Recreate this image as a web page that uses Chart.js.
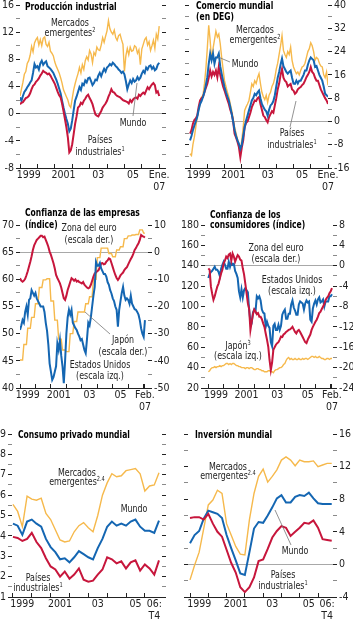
<!DOCTYPE html>
<html lang="es">
<head>
<meta charset="utf-8">
<title>Indicadores mundiales</title>
<script src="https://cdn.jsdelivr.net/npm/chart.js@4.4.1/dist/chart.umd.min.js"></script>
<style>
  html, body { margin: 0; padding: 0; background: #fff; }
  body { position: relative; width: 353px; height: 620px; overflow: hidden;
         font-family: "Liberation Sans Narrow", "Arial Narrow", "DejaVu Sans Condensed", sans-serif; }
  canvas { position: absolute; }
  .t { position: absolute; font-size: 11px; line-height: 11px; color: #222; white-space: nowrap; }
  .c { transform: translate(-50%, -50%) scaleX(0.8); text-align: center; }
  .l { transform: translateY(-50%) scaleX(0.77); transform-origin: left center; }
  .b { font-weight: bold; color: #000; }
  sup { font-size: 7px; line-height: 0; vertical-align: 4px; }
  svg { position: absolute; left: 0; top: 0; }
</style>
</head>
<body>
<canvas id="p1" width="176" height="200" style="left:0;top:0"></canvas>
<canvas id="p2" width="177" height="200" style="left:176px;top:0"></canvas>
<canvas id="p3" width="176" height="215" style="left:0;top:205px"></canvas>
<canvas id="p4" width="177" height="215" style="left:176px;top:205px"></canvas>
<canvas id="p5" width="176" height="200" style="left:0;top:420px"></canvas>
<canvas id="p6" width="177" height="200" style="left:176px;top:420px"></canvas>

<svg width="353" height="620">
  <g stroke="#777" stroke-width="0.8">
    <line x1="133" y1="116" x2="137" y2="83"/>
    <line x1="230" y1="62" x2="218" y2="57"/>
    <line x1="290" y1="127" x2="296" y2="101"/>
    <line x1="110" y1="334" x2="85" y2="312"/>
    <line x1="291" y1="545" x2="275" y2="510"/>
  </g>
</svg>

<!-- Producción industrial -->
<div class="t b l" style="left:25px;top:6px">Producción industrial</div>
<div class="t c" style="left:70px;top:28px;line-height:10px">Mercados<br>emergentes<sup>2</sup></div>
<div class="t c" style="left:133px;top:122px">Mundo</div>
<div class="t c" style="left:100px;top:146px;line-height:12px">Países<br>industriales<sup>1</sup></div>

<!-- Comercio mundial -->
<div class="t b l" style="left:196px;top:11px">Comercio mundial<br>(en DEG)</div>
<div class="t c" style="left:255px;top:35px;line-height:10px">Mercados<br>emergentes<sup>2</sup></div>
<div class="t c" style="left:245px;top:63px">Mundo</div>
<div class="t c" style="left:292px;top:139px;line-height:12px">Países<br>industriales<sup>1</sup></div>

<!-- Confianza de las empresas -->
<div class="t b l" style="left:25px;top:219px;line-height:12px">Confianza de las empresas<br>(índice)</div>
<div class="t c" style="left:89px;top:234px;line-height:12px">Zona del euro<br>(escala der.)</div>
<div class="t c" style="left:123px;top:346px;line-height:12px">Japón<br>(escala der.)</div>
<div class="t c" style="left:100px;top:370px">Estados Unidos<br>(escala izq.)</div>

<!-- Confianza de los consumidores -->
<div class="t b l" style="left:210px;top:220px;line-height:10px">Confianza de los<br>consumidores (índice)</div>
<div class="t c" style="left:276px;top:253px">Zona del euro<br>(escala der.)</div>
<div class="t c" style="left:292px;top:285px">Estados Unidos<br>(escala izq.)</div>
<div class="t c" style="left:238px;top:351px;line-height:10px">Japón<sup>3</sup><br>(escala izq.)</div>

<!-- Consumo privado mundial -->
<div class="t b l" style="left:18px;top:434px">Consumo privado mundial</div>
<div class="t c" style="left:77px;top:477px;line-height:9px">Mercados<br>emergentes<sup>2.4</sup></div>
<div class="t c" style="left:134px;top:508px">Mundo</div>
<div class="t c" style="left:38px;top:583px;line-height:10px">Países<br>industriales<sup>1</sup></div>

<!-- Inversión mundial -->
<div class="t b l" style="left:195px;top:434px">Inversión mundial</div>
<div class="t c" style="left:228px;top:471px;line-height:9px">Mercados<br>emergentes<sup>2.4</sup></div>
<div class="t c" style="left:295px;top:550px">Mundo</div>
<div class="t c" style="left:283px;top:580px;line-height:11px">Países<br>industriales<sup>1</sup></div>

<script>
// ---- data: monthly from Jan 1999 ----
// Producción industrial (Jan 1999 - Jan 2007)
const indEmergentes = [
  2.6,3.6,4.6,5.8,6.2,7.4,7.8,8.6,9.9,9.1,10.4,10.9,
  11.2,10.1,10.9,10.0,11.1,11.3,10.2,9.9,10.5,9.2,8.9,8.5,
  7.6,7.0,6.5,6.0,5.3,4.5,3.5,3.0,2.5,2.0,1.2,0.9,
  2.2,3.5,4.4,5.2,5.9,6.8,6.0,7.2,6.5,7.8,8.4,7.9,
  9.3,8.8,7.5,9.0,8.6,9.8,9.4,9.3,10.1,11.2,10.5,11.4,
  12.2,13.7,12.5,12.0,11.7,12.3,11.2,10.8,11.5,11.7,10.9,10.2,
  6.2,8.5,9.6,8.7,9.8,9.2,9.3,10.0,9.8,8.9,9.4,7.2,
  9.5,10.2,10.9,11.2,10.1,10.6,9.3,10.0,10.8,9.6,11.7,11.0,
  12.9];
const indMundo = [
  2.4,1.9,2.6,3.2,3.5,3.9,4.2,4.6,4.9,6.0,7.3,6.8,
  7.0,6.5,7.4,7.8,7.2,7.5,7.7,7.0,6.8,6.6,6.3,6.0,
  5.5,5.0,4.4,3.7,3.0,1.9,0.9,0.0,-0.8,-1.5,-2.6,-2.2,
  -1.0,0.5,1.9,2.5,3.2,3.9,3.5,4.4,4.2,4.9,4.6,5.2,
  5.3,4.8,4.2,4.5,5.0,4.9,5.6,6.0,5.5,6.1,6.6,6.2,
  6.8,7.0,7.3,7.1,7.5,7.3,7.0,6.8,6.5,6.3,6.0,6.2,
  5.8,4.8,3.6,4.3,4.9,4.5,5.1,4.7,4.9,5.4,5.0,5.3,
  5.9,6.3,6.0,6.8,6.5,7.0,7.1,6.6,6.9,6.4,6.6,7.2,
  7.5];
const indIndustriales = [
  1.4,1.6,1.7,2.0,2.3,2.4,2.6,3.0,3.6,4.1,4.3,4.7,
  4.9,5.2,5.6,5.9,6.3,6.1,6.0,5.8,5.9,5.6,5.2,4.8,
  4.4,3.8,3.2,2.7,2.4,1.5,0.4,-0.8,-2.0,-3.5,-5.7,-5.4,
  -4.5,-3.0,-1.5,-0.4,0.9,1.1,1.6,1.4,1.9,2.2,2.6,2.8,
  2.3,1.9,1.4,0.6,-0.1,-0.3,-0.4,0.0,0.4,0.9,1.2,1.5,
  1.9,2.5,3.0,3.6,3.2,3.1,2.8,2.6,2.5,2.4,2.2,2.0,
  1.9,1.8,1.7,1.5,2.0,1.7,2.1,2.3,2.4,2.2,2.8,2.6,
  2.9,3.1,2.9,3.4,3.9,3.6,4.0,4.3,4.5,4.2,3.1,3.3,
  2.6];

// Comercio mundial en DEG (Jan 1999 - Jan 2007)
const comEmergentes = [
  -11.1,-11.7,-8.0,-5.4,-2.0,1.5,4.0,6.0,8.4,9.0,12.9,18.0,
  25.0,33.0,27.8,21.0,25.0,28.0,31.0,29.0,30.0,26.7,22.0,18.0,
  14.0,12.0,10.0,8.4,6.0,3.8,1.0,-2.0,-4.0,-6.0,-7.7,-10.5,
  -6.5,-2.0,3.8,5.0,6.0,7.2,10.0,12.9,12.0,14.0,13.0,15.0,
  16.4,13.0,10.0,8.5,7.5,9.0,6.5,9.0,10.0,12.0,13.0,15.0,
  18.0,20.0,23.0,26.0,29.5,24.4,23.0,22.0,24.0,23.0,25.5,21.0,
  18.7,17.5,16.4,17.0,16.0,17.5,18.7,19.0,20.0,22.0,24.0,25.0,
  27.0,26.0,24.0,21.0,22.0,21.5,20.0,19.0,18.7,16.0,15.0,17.0,
  12.4];
const comMundo = [
  -6.5,-5.0,-3.0,-1.5,0.0,1.5,4.0,6.0,7.0,8.4,10.0,12.5,
  15.2,19.8,23.3,21.0,23.3,19.8,22.0,22.0,23.3,19.0,16.4,14.0,
  11.8,10.0,8.5,7.2,5.0,2.6,0.0,-3.0,-5.0,-6.5,-7.7,-9.4,
  -8.0,-5.0,-2.0,0.3,2.0,3.8,5.5,7.2,8.0,9.5,9.0,10.0,
  10.6,8.0,6.0,5.0,4.0,3.5,2.0,4.0,5.5,6.0,7.0,9.0,
  12.0,15.0,17.0,19.5,21.6,19.0,18.0,17.0,16.4,17.0,17.5,15.0,
  13.0,12.9,14.0,13.0,14.0,14.0,15.0,16.0,17.5,17.5,19.5,21.0,
  22.0,21.5,21.0,18.7,19.0,17.5,16.0,15.0,14.0,12.0,9.5,9.0,
  8.4];
const comIndustriales = [
  -4.2,-3.0,-0.8,0.5,1.0,2.0,5.0,7.2,8.0,8.4,10.0,11.5,
  12.9,15.0,17.5,15.5,17.0,16.0,17.5,15.2,18.7,16.0,14.0,12.0,
  10.6,9.0,7.5,6.0,4.0,2.6,0.0,-4.2,-5.5,-7.0,-8.8,-12.3,
  -9.0,-6.5,-2.0,-0.5,0.0,1.5,3.0,4.9,6.0,7.2,7.0,8.0,
  8.4,6.0,4.0,2.0,1.5,0.5,-0.3,1.5,2.5,3.5,3.0,5.5,
  8.0,11.0,13.0,16.0,18.0,15.0,14.0,13.5,12.0,12.5,12.9,11.0,
  10.6,9.5,10.0,11.0,11.5,11.8,12.5,13.0,14.0,15.2,16.0,17.0,
  18.7,17.0,16.4,15.0,14.0,14.0,12.5,11.0,10.0,9.0,8.0,7.2,
  6.0];

// Confianza de las empresas (Jan 1999 - Feb 2007)
const empEuro = [
  -9.6,-10.5,-10.9,-10.5,-9.8,-8.5,-7.0,-5.3,-3.5,-1.5,0.8,2.5,
  3.5,4.5,5.0,5.5,6.0,6.0,5.5,5.7,4.5,3.3,2.0,0.2,
  -1.0,-2.5,-4.1,-6.0,-8.4,-9.5,-10.5,-11.5,-13.0,-15.0,-17.0,-17.6,
  -16.0,-13.9,-12.5,-11.0,-9.6,-10.0,-10.5,-10.0,-10.8,-10.5,-11.0,-11.2,
  -11.5,-11.0,-12.0,-12.5,-13.0,-13.3,-13.0,-12.0,-10.5,-9.0,-7.8,-7.5,
  -7.0,-6.6,-5.5,-4.1,-4.0,-4.5,-4.3,-3.5,-3.0,-2.3,-2.6,-4.0,
  -5.5,-7.0,-8.4,-9.5,-10.2,-9.5,-8.5,-8.0,-7.5,-6.6,-6.0,-5.5,
  -4.5,-3.5,-2.5,-1.7,-0.5,0.8,1.5,2.5,3.3,4.5,6.3,5.9,
  5.7,5.4];
const empJapon = [
  -39.7,-39.7,-39.7,-34,-34,-34,-28,-28,-28,-24,-24,-24,
  -19,-19,-19,-13,-13,-13,-10.2,-10.2,-10.2,-9.8,-9.8,-9.8,
  -18,-18,-18,-25,-25,-25,-32,-32,-32,-36,-36,-36,
  -36.6,-36.6,-36.6,-30,-30,-30,-25.5,-25.5,-25.5,-22,-22,-22,
  -22,-22,-22,-19,-19,-19,-16.4,-16.4,-16.4,-10,-10,-10,
  -2,-2,-2,1.5,1.5,1.5,1.5,1.5,1.5,-0.5,-0.5,-0.5,
  -1.7,-1.7,-1.7,0.8,0.8,0.8,2,2,2,5,5,5,
  6,6,6,6.3,6.3,6.3,6.5,6.5,6.5,8.2,8.2,8.2,
  7,7];
const empEEUU = [
  50.7,51.5,52.5,52.0,54.0,55.0,53.5,56.2,56.5,58.0,57.5,57.0,
  57.5,56.5,56.0,55.5,55.0,55.0,55.0,54.0,52.0,50.5,48.0,44.5,
  43.0,41.5,42.0,43.0,44.0,48.2,47.0,48.8,46.0,44.0,40.9,45.0,
  50.0,53.0,54.4,53.5,54.4,52.0,51.5,51.0,50.7,50.0,49.5,48.8,
  49.0,48.0,47.0,46.4,49.0,52.0,51.5,53.0,55.0,57.0,58.6,63.2,
  62.5,62.5,63.0,62.0,61.5,61.0,61.0,60.5,59.5,59.0,58.0,57.4,
  56.5,56.0,55.0,54.4,51.3,54.4,56.0,57.5,58.6,57.0,56.2,56.5,
  56.2,55.5,57.0,55.5,55.0,54.5,54.4,54.0,53.5,52.5,51.0,50.0,
  49.4,52.5];

// Confianza de los consumidores (Jan 1999 - Feb 2007)
const conEEUU = [
  128,132,134,135,137,139,136,136,134,130,137,141,
  144,141,137,137,144,139,143,141,142,135,132,128,
  115,109,117,109,116,118,116,114,97,85,84,94,
  97,95,110,108,110,106,97,94,93,80,85,81,
  79,65,61,81,83,77,77,82,77,81,92,95,
  97,88,88,93,93,102,106,99,96,92,92,102,
  105,104,103,97,103,106,104,105,87,85,98,103,
  106,102,107,109,104,105,107,100,105,105,105,110,
  110,112];
const conEuro = [
  -0.5,-0.8,-4.1,-5.5,-6.7,-6.0,-5.0,-4.1,-3.5,-2.5,-1.5,-0.8,
  0.5,1.0,1.8,1.5,2.2,2.4,1.0,2.4,1.8,0.8,1.5,2.1,
  1.8,1.2,1.0,-0.5,-1.7,-3.5,-5.4,-7.4,-8.5,-12.6,-11.0,-9.5,
  -8.6,-9.0,-9.5,-9.3,-10.0,-10.0,-10.5,-11.3,-12.0,-13.3,-14.5,-15.9,
  -18.5,-20.5,-19.0,-16.5,-16.0,-15.5,-15.2,-15.0,-14.5,-13.9,-14.0,-13.5,
  -13.3,-13.0,-12.8,-12.6,-12.5,-12.3,-12.0,-12.5,-13.0,-13.3,-12.8,-12.6,
  -13.0,-13.5,-14.0,-14.5,-15.0,-15.2,-14.5,-14.0,-13.5,-12.6,-12.0,-11.5,
  -11.0,-10.6,-10.0,-9.3,-9.0,-8.5,-8.0,-7.5,-6.7,-6.3,-6.0,-5.4,
  -5.0,-4.4];
const conJapon = [
  36,37,39,40,40,41,40,41,41,42,41,42,
  42,43,44,44,43,44,43,44,44,43,42,42,
  41,41,40,40,40,39,40,40,39,40,40,39,
  38,38,39,39,38,38,37,37,36,36,36,37,
  37,36,36,35,37,38,38,39,40,40,41,43,
  44,47,49,50,48,49,48,48,49,48,48,49,
  48,48,49,48,49,49,48,49,50,51,51,50,
  51,50,50,51,50,49,49,48,48,49,49,48,
  49,49];

// ---- data: quarterly, 1999 T1 - 2006 T4 ----
const consEmergentes = [5.55,5.2,4.45,5.95,5.8,5.75,5.85,5.1,4.8,4.3,3.8,3.7,3.75,4.2,4.5,4.65,
  4.4,4.2,5.0,6.0,6.6,7.05,6.9,6.95,7.2,7.25,7.3,7.05,6.2,6.45,6.5,7.1];
const consMundo = [4.6,4.5,4.05,4.7,4.8,4.6,4.45,3.85,3.45,3.2,2.85,2.9,2.7,2.95,3.25,3.1,
  2.95,2.85,3.4,3.85,4.45,4.7,4.5,4.6,4.5,4.7,4.8,4.45,4.25,4.25,4.15,4.75];
const consIndustriales = [3.95,3.9,3.75,3.85,4.15,3.7,3.4,2.9,2.5,2.35,2.0,2.25,1.9,2.1,2.4,1.85,
  1.75,1.8,2.1,2.35,2.95,2.85,2.65,2.75,2.4,2.7,2.8,2.3,2.6,2.4,2.1,2.8];

const invEmergentes = [-1.9,-0.1,1.5,4.4,7.3,7.9,9.1,8.7,5.0,3.6,2.2,1.25,1.15,5.5,8.7,10.8,
  11.7,10.1,10.8,11.6,12.8,13.2,12.8,12.1,12.8,12.6,12.6,12.7,12.0,12.2,12.4,12.4];
const invMundo = [2.6,3.6,4.1,5.6,6.6,6.4,6.2,5.7,3.6,2.0,0.5,-1.1,-1.3,1.5,4.4,5.2,
  5.1,6.0,7.0,8.1,8.5,7.6,7.6,8.3,8.5,8.4,8.8,8.1,7.5,7.4,7.4,7.4];
const invIndustriales = [5.7,5.8,5.8,5.5,6.2,5.0,4.0,3.4,1.8,0.2,-1.0,-2.8,-3.4,-2.8,-1.6,0.4,
  0.6,1.9,3.3,4.1,4.7,4.5,3.5,4.0,4.5,5.1,5.0,5.4,4.5,3.1,3.0,2.9];

// ---- x tick labels: [position in years, text, draw tick mark] ----
const labelsEne07 = [[1999.5, '1999'], [2001.5, '2001'], [2003.5, '03'], [2005.5, '05'], [2007, ['Ene.', '07'], true]];
const labelsFeb07 = [[1999.5, '1999'], [2001.5, '2001'], [2003.5, '03'], [2005.5, '05'], [2007.08, ['Feb.', '07'], true]];
const labelsT4 = [[1999.5, '1999'], [2001.5, '2001'], [2003.5, '03'], [2005.5, '05'], [2006.5, ['06:', 'T4']]];

const ORANGE = '#F6B94C';
const BLUE = '#1466B2';
const RED = '#C7163C';
const FONT = '"Liberation Sans Narrow", "Arial Narrow", "DejaVu Sans Condensed", sans-serif';
const tickFont = { family: FONT, size: 10.5, lineHeight: 1.15 };

const monthly = vals => vals.map((v, i) => ({ x: 1999 + i / 12, y: v }));
const quarterly = vals => vals.map((v, i) => ({ x: 1999 + i / 4, y: v }));
const steps = (min, max, step) => Array.from({ length: Math.round((max - min) / step) + 1 }, (_, i) => min + i * step);
const isMult = (v, m) => Math.abs(v / m - Math.round(v / m)) < 1e-6;
const near = (a, b) => Math.abs(a - b) < 1e-6;

function yAxis(pos, width, min, max, step, major, showLabels, refLine) {
  return {
    type: 'linear', position: pos, min, max,
    afterBuildTicks: s => { s.ticks = steps(min, max, step).map(v => ({ value: v })); },
    ticks: {
      autoSkip: false, padding: 2, color: '#222', font: tickFont,
      callback: v => (showLabels && isMult(v, major)) ? String(Math.round(v * 10) / 10) : ''
    },
    grid: {
      drawOnChartArea: refLine !== undefined,
      color: c => (c.tick && near(c.tick.value, refLine)) ? '#a8a8a8' : 'rgba(0,0,0,0)',
      lineWidth: 1, tickLength: 4,
      tickColor: c => isMult(c.tick.value, major) ? '#222' : '#8a8a8a'
    },
    border: { display: false },
    afterFit: s => { s.width = width; s.paddingTop = 0; s.paddingBottom = 0; }
  };
}

function xAxis(min, max, labels, height) {
  const years = steps(1999, 2007, 1).filter(v => v >= min && v <= max);
  const vals = years.concat(labels.map(l => l[0]).filter(v => !years.some(y => near(y, v))))
    .sort((a, b) => a - b);
  const marked = v => years.some(y => near(y, v)) || labels.some(l => near(l[0], v) && l[2]);
  return {
    type: 'linear', position: 'bottom', min, max, bounds: 'data',
    afterBuildTicks: s => { s.ticks = vals.map(v => ({ value: v })); },
    ticks: {
      autoSkip: false, maxRotation: 0, padding: 5, color: '#222', font: tickFont,
      callback: v => { const l = labels.find(l => near(l[0], v)); return l ? l[1] : ''; }
    },
    grid: {
      drawOnChartArea: false, tickLength: -4,
      tickColor: c => marked(c.tick.value) ? '#222' : 'rgba(0,0,0,0)'
    },
    border: { display: true, color: '#222', width: 1 },
    afterFit: s => { s.height = height; s.paddingLeft = 0; s.paddingRight = 0; }
  };
}

function series(data, color, width, axis, extra) {
  return Object.assign({ data, borderColor: color, borderWidth: width, pointRadius: 0,
    fill: false, tension: 0, yAxisID: axis }, extra || {});
}

function panel(id, datasets, scales, padTop) {
  new Chart(document.getElementById(id), {
    type: 'line',
    data: { datasets },
    options: {
      responsive: false, animation: false, devicePixelRatio: 1,
      layout: { padding: { top: padTop, left: 0, right: 0, bottom: 0 } },
      plugins: { legend: { display: false }, tooltip: { enabled: false } },
      scales
    }
  });
}

// Producción industrial
panel('p1', [
  series(monthly(indIndustriales), RED, 2, 'yL'),
  series(monthly(indMundo), BLUE, 2, 'yL'),
  series(monthly(indEmergentes), ORANGE, 1.4, 'yL')
], {
  x: xAxis(1999, 2007.16, labelsEne07, 32),
  yL: yAxis('left', 20, -8, 16, 2, 4, true, 0),
  yR: yAxis('right', 14, -8, 16, 2, 4, false)
}, 5);

// Comercio mundial
panel('p2', [
  series(monthly(comMundo), BLUE, 2, 'yR'),
  series(monthly(comIndustriales), RED, 2, 'yR'),
  series(monthly(comEmergentes), ORANGE, 1.4, 'yR')
], {
  x: xAxis(1998.94, 2007, labelsEne07, 32),
  yL: yAxis('left', 13, -16, 40, 4, 8, false),
  yR: yAxis('right', 25, -16, 40, 4, 8, true, 0)
}, 5);

// Confianza de las empresas
panel('p3', [
  series(monthly(empEEUU), BLUE, 2, 'yL'),
  series(monthly(empEuro), RED, 2, 'yR'),
  series(monthly(empJapon), ORANGE, 1.4, 'yR')
], {
  x: xAxis(1999, 2007.28, labelsFeb07, 32),
  yL: yAxis('left', 20, 40, 70, 2.5, 5, true),
  yR: yAxis('right', 28, -50, 10, 5, 10, true, 0)
}, 20);

// Confianza de los consumidores
panel('p4', [
  series(monthly(conEuro), RED, 2, 'yR'),
  series(monthly(conEEUU), BLUE, 2, 'yL'),
  series(monthly(conJapon), ORANGE, 1.4, 'yL')
], {
  x: xAxis(1998.78, 2007.15, labelsFeb07, 32),
  yL: yAxis('left', 29, 20, 180, 10, 20, true),
  yR: yAxis('right', 20, -24, 8, 2, 4, true, 0)
}, 20);

// Consumo privado mundial
panel('p5', [
  series(quarterly(consIndustriales), RED, 2, 'yL'),
  series(quarterly(consMundo), BLUE, 2, 'yL'),
  series(quarterly(consEmergentes), ORANGE, 1.4, 'yL')
], {
  x: xAxis(1998.95, 2006.91, labelsT4, 23),
  yL: yAxis('left', 12, 1, 9, 0.5, 1, true),
  yR: yAxis('right', 14, 1, 9, 0.5, 1, false)
}, 14);

// Inversión mundial
panel('p6', [
  series(quarterly(invIndustriales), RED, 2, 'yR'),
  series(quarterly(invMundo), BLUE, 2, 'yR'),
  series(quarterly(invEmergentes), ORANGE, 1.4, 'yR')
], {
  x: xAxis(1998.89, 2006.82, labelsT4, 23),
  yL: yAxis('left', 12, -4, 16, 2, 4, false),
  yR: yAxis('right', 20, -4, 16, 2, 4, true, 0)
}, 14);
</script>
</body>
</html>
